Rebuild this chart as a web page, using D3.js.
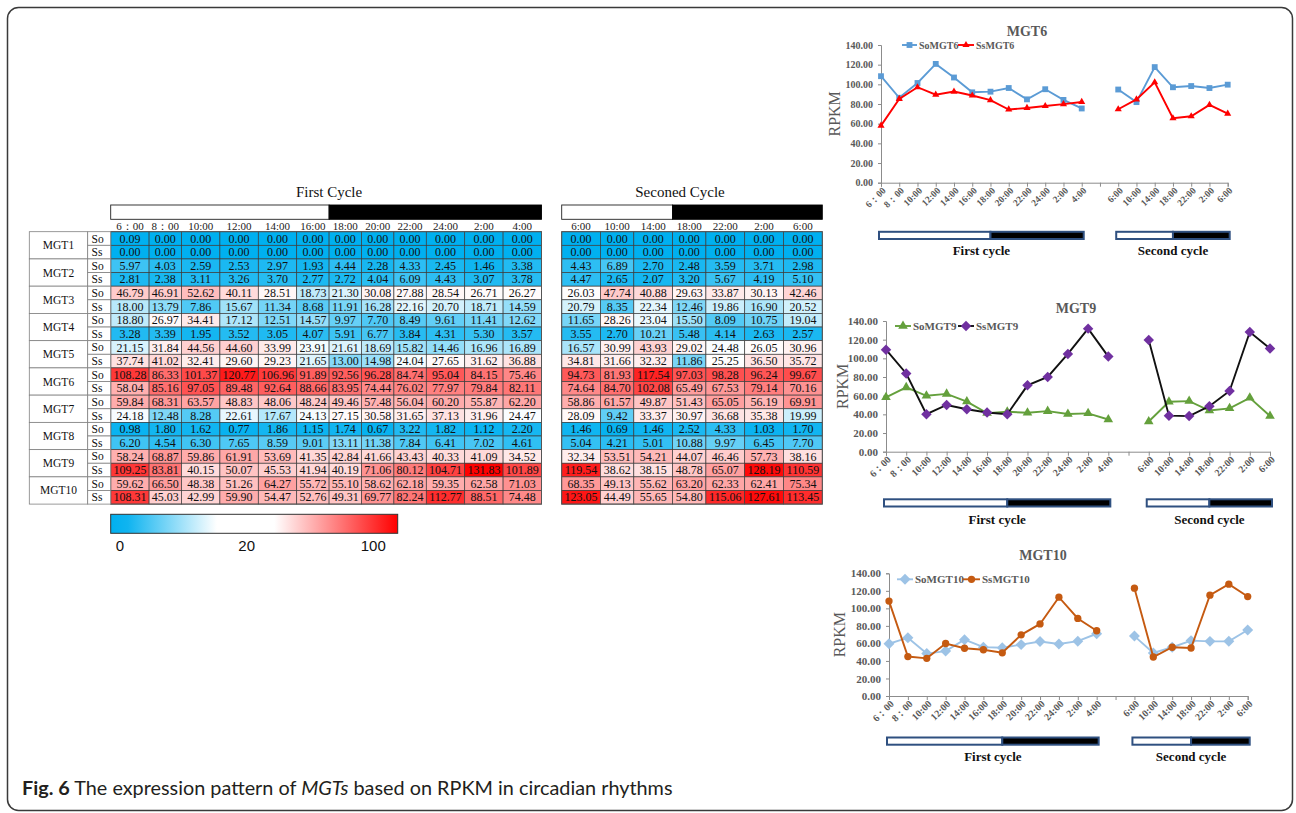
<!DOCTYPE html>
<html><head><meta charset="utf-8">
<script src="https://cdn.jsdelivr.net/npm/d3@7"></script>
<style>body{margin:0;background:#fff}svg{display:block}</style>
</head><body><svg id="c" width="1296" height="813"></svg>
<script>
// ---------------- DATA ----------------
const times1 = ["6：00","8：00","10:00","12:00","14:00","16:00","18:00","20:00","22:00","24:00","2:00","4:00"];
const times2 = ["6:00","10:00","14:00","18:00","22:00","2:00","6:00"];
const genes = ["MGT1","MGT2","MGT3","MGT4","MGT5","MGT6","MGT7","MGT8","MGT9","MGT10"];
const species = ["So","Ss"];
// each row: 12 first-cycle values followed by 7 second-cycle values
const MGT1_So = [0.09,0,0,0,0,0,0,0,0,0,0,0, 0,0,0,0,0,0,0];
const MGT1_Ss = [0,0,0,0,0,0,0,0,0,0,0,0, 0,0,0,0,0,0,0];
const MGT2_So = [5.97,4.03,2.59,2.53,2.97,1.93,4.44,2.28,4.33,2.45,1.46,3.38, 4.43,6.89,2.70,2.48,3.59,3.71,2.98];
const MGT2_Ss = [2.81,2.38,3.11,3.26,3.70,2.77,2.72,4.04,6.09,4.43,3.07,3.78, 4.47,2.65,2.07,3.20,5.67,4.19,5.10];
const MGT3_So = [46.79,46.91,52.62,40.11,28.51,18.73,21.30,30.08,27.88,28.54,26.71,26.27, 26.03,47.74,40.88,29.63,33.87,30.13,42.46];
const MGT3_Ss = [18.00,13.79,7.86,15.67,11.34,8.68,11.91,16.28,22.16,20.70,18.71,14.59, 20.79,8.35,22.34,12.46,19.86,16.90,20.52];
const MGT4_So = [18.80,26.97,34.41,17.12,12.51,14.57,9.97,7.70,8.49,9.61,11.41,12.62, 11.65,28.26,23.04,15.50,8.09,10.75,19.04];
const MGT4_Ss = [3.28,3.39,1.95,3.52,3.05,4.07,5.91,6.77,3.84,4.31,5.30,3.57, 3.55,2.70,10.21,5.48,4.14,2.63,2.57];
const MGT5_So = [21.15,31.84,44.56,44.60,33.99,23.91,21.61,18.69,15.82,14.46,16.96,16.89, 16.57,30.99,43.93,29.02,24.48,26.05,30.96];
const MGT5_Ss = [37.74,41.02,32.41,29.60,29.23,21.65,13.00,14.98,24.04,27.65,31.62,36.88, 34.81,31.66,32.32,11.86,25.25,36.50,35.72];
const MGT6_So = [108.28,86.33,101.37,120.77,106.96,91.89,92.56,96.28,84.74,95.04,84.15,75.46, 94.73,81.93,117.54,97.03,98.28,96.24,99.67];
const MGT6_Ss = [58.04,85.16,97.05,89.48,92.64,88.66,83.95,74.44,76.02,77.97,79.84,82.11, 74.64,84.70,102.08,65.49,67.53,79.14,70.16];
const MGT7_So = [59.84,68.31,63.57,48.83,48.06,48.24,49.46,57.48,56.04,60.20,55.87,62.20, 58.86,61.57,49.87,51.43,65.05,56.19,69.91];
const MGT7_Ss = [24.18,12.48,8.28,22.61,17.67,24.13,27.15,30.58,31.65,37.13,31.96,24.47, 28.09,9.42,33.37,30.97,36.68,35.38,19.99];
const MGT8_So = [0.98,1.80,1.62,0.77,1.86,1.15,1.74,0.67,3.22,1.82,1.12,2.20, 1.46,0.69,1.46,2.52,4.33,1.03,1.70];
const MGT8_Ss = [6.20,4.54,6.30,7.65,8.59,9.01,13.11,11.38,7.84,6.41,7.02,4.61, 5.04,4.21,5.01,10.88,9.97,6.45,7.70];
const MGT9_So = [58.24,68.87,59.86,61.91,53.69,41.35,42.84,41.66,43.43,40.33,41.09,34.52, 32.34,53.51,54.21,44.07,46.46,57.73,38.16];
const MGT9_Ss = [109.25,83.81,40.15,50.07,45.53,41.94,40.19,71.06,80.12,104.71,131.83,101.89, 119.54,38.62,38.15,48.78,65.07,128.19,110.59];
const MGT10_So = [59.62,66.50,48.38,51.26,64.27,55.72,55.10,58.62,62.18,59.35,62.58,71.03, 68.35,49.13,55.62,63.20,62.33,62.41,75.34];
const MGT10_Ss = [108.31,45.03,42.99,59.90,54.47,52.76,49.31,69.77,82.24,112.77,88.51,74.48, 123.05,44.49,55.65,54.80,115.06,127.61,113.45];
const legendTicks = [0, 20, 100];
const yTicks = [0,20,40,60,80,100,120,140];

const rows = [MGT1_So,MGT1_Ss,MGT2_So,MGT2_Ss,MGT3_So,MGT3_Ss,MGT4_So,MGT4_Ss,MGT5_So,MGT5_Ss,
              MGT6_So,MGT6_Ss,MGT7_So,MGT7_Ss,MGT8_So,MGT8_Ss,MGT9_So,MGT9_Ss,MGT10_So,MGT10_Ss];

// ---------------- DRAW ----------------
const svg = d3.select("#c");
const SERIF = "'Liberation Serif','Times New Roman',serif";
const SANS = "'Liberation Sans',Arial,sans-serif";
svg.append("rect").attr("width",1296).attr("height",813).attr("fill","#fff");
svg.append("rect").attr("x",7.5).attr("y",7.5).attr("width",1285).attr("height",803)
  .attr("rx",11).attr("fill","none").attr("stroke","#3a3a3a").attr("stroke-width",1.5);

const maxVal = d3.max(rows, r => d3.max(r));
const color = d3.scaleLinear().domain([0, 25, maxVal]).range(["#00b0f0","#ffffff","#ff0000"]).clamp(true);
const fmt = d3.format(".2f");

const rowTop = 231.7, rowH = 13.62;
const yRow = d3.scaleLinear().domain([0, rows.length]).range([rowTop, rowTop + rowH*rows.length]);

function heatTable(colIdx, labels, x0, wideW, narrowW, title, titleX, split) {
  const widths = colIdx.map(ci => d3.max(rows, r => r[ci]) >= 100 ? wideW : narrowW);
  const starts = [x0, ...d3.cumsum(widths).map(c => x0 + c)];
  const xCol = d3.scaleOrdinal().domain(d3.range(colIdx.length)).range(starts.slice(0,-1));
  const wCol = d3.scaleOrdinal().domain(d3.range(colIdx.length)).range(widths);
  const xEnd = starts[starts.length-1];
  const g = svg.append("g");
  g.append("text").attr("x",titleX).attr("y",197).attr("text-anchor","middle")
    .attr("font-family",SERIF).attr("font-size",15).attr("fill","#111").text(title);
  // light/dark bar
  const xs = xCol(split);
  g.append("rect").attr("x",x0).attr("y",205).attr("width",xs-x0).attr("height",14.3)
    .attr("fill","#fff").attr("stroke","#222").attr("stroke-width",0.9);
  g.append("rect").attr("x",xs).attr("y",205).attr("width",xEnd-xs).attr("height",14.3)
    .attr("fill","#000").attr("stroke","#000").attr("stroke-width",0.9);
  // time labels
  g.selectAll(".tl").data(labels).join("text")
    .attr("x",(d,i)=>xCol(i)+wCol(i)/2).attr("y",230.3).attr("text-anchor","middle")
    .attr("font-family",SERIF).attr("font-size",11).attr("fill","#222").text(d=>d);
  // cells
  const cells = [];
  rows.forEach((r,ri)=>colIdx.forEach((ci,k)=>cells.push({ri,k,v:r[ci]})));
  g.selectAll(".cell").data(cells).join("rect")
    .attr("x",d=>xCol(d.k)).attr("y",d=>yRow(d.ri)).attr("width",d=>wCol(d.k)).attr("height",rowH)
    .attr("fill",d=>color(d.v)).attr("stroke","#3c3c3c").attr("stroke-width",0.7);
  g.selectAll(".val").data(cells).join("text")
    .attr("x",d=>xCol(d.k)+wCol(d.k)/2).attr("y",d=>yRow(d.ri)+rowH/2+4.1).attr("text-anchor","middle")
    .attr("font-family",SERIF).attr("font-size",12).attr("fill","#111").text(d=>fmt(d.v));
  g.append("rect").attr("x",x0).attr("y",rowTop).attr("width",xEnd-x0).attr("height",rowH*rows.length)
    .attr("fill","none").attr("stroke","#555").attr("stroke-width",1);
  return xEnd;
}
heatTable(d3.range(12), times1, 110.7, 38.4, 32.4, "First Cycle", 329, 6);
heatTable(d3.range(12,19), times2, 561.7, 38.8, 33.3, "Seconed Cycle", 680, 3);

// row labels
const lab = svg.append("g");
genes.forEach((gn,gi)=>{
  lab.append("rect").attr("x",29.3).attr("y",yRow(gi*2)).attr("width",58.4).attr("height",rowH*2)
    .attr("fill","#fff").attr("stroke","#808080").attr("stroke-width",0.8);
  lab.append("text").attr("x",58.5).attr("y",yRow(gi*2)+rowH+4).attr("text-anchor","middle")
    .attr("font-family",SERIF).attr("font-size",11.5).attr("fill","#111").text(gn);
  species.forEach((sp,si)=>{
    lab.append("rect").attr("x",87.7).attr("y",yRow(gi*2+si)).attr("width",23).attr("height",rowH)
      .attr("fill","#fff").attr("stroke","#808080").attr("stroke-width",0.8);
    lab.append("text").attr("x",91.5).attr("y",yRow(gi*2+si)+rowH/2+4).attr("font-family",SERIF)
      .attr("font-size",11.5).attr("fill","#111").text(sp);
  });
});

// colour legend
const defs = svg.append("defs");
const grad = defs.append("linearGradient").attr("id","lg");
[[0,"#00b0f0"],[0.06,"#10b4f0"],[0.37,"#ffffff"],[0.57,"#ffffff"],[1,"#ff0000"]].forEach(s=>
  grad.append("stop").attr("offset",s[0]).attr("stop-color",s[1]));
const lgX = d3.scalePoint().domain(legendTicks).range([120,373.3]);
svg.append("rect").attr("x",110.7).attr("y",514.3).attr("width",287).attr("height",19)
  .attr("fill","url(#lg)").attr("stroke","#333").attr("stroke-width",1);
svg.selectAll(".lgt").data(legendTicks).join("text").attr("x",d=>lgX(d)).attr("y",550.5)
  .attr("text-anchor","middle").attr("font-family",SANS).attr("font-size",15).attr("fill","#111").text(d=>d);

// ---------------- LINE CHARTS ----------------
const xLabels = [...times1, "", ...times2];
const diamond = {draw(ctx,size){const r=Math.sqrt(size/2);ctx.moveTo(0,-r);ctx.lineTo(r,0);ctx.lineTo(0,r);ctx.lineTo(-r,0);ctx.closePath();}};
const charts = [
  {title:"MGT6", so:MGT6_So, ss:MGT6_Ss, x0:881, x1:1227.7, yB:182.7, yT:45, titleX:1027, titleY:36,
   legY:45, soL:[902,917], ssL:[958,974], rpkmX:835, barY:231.8, labY:255, fs:10, xfs:9.5,
   soC:"#5b9bd5", soLine:"#5b9bd5", soSym:d3.symbolSquare, soSize:34,
   ssC:"#ff0000", ssLine:"#ff0000", ssSym:d3.symbolTriangle, ssSize:22},
  {title:"MGT9", so:MGT9_So, ss:MGT9_Ss, x0:886, x1:1270, yB:451.7, yT:321, titleX:1076, titleY:313,
   legY:326, soL:[895,911], ssL:[958,974], rpkmX:843, barY:499.3, labY:524.3, fs:11, xfs:10,
   soC:"#64a03c", soLine:"#64a03c", soSym:d3.symbolTriangle, soSize:40,
   ssC:"#7030a0", ssLine:"#111111", ssSym:diamond, ssSize:55},
  {title:"MGT10", so:MGT10_So, ss:MGT10_Ss, x0:889, x1:1247.7, yB:696, yT:573.3, titleX:1043, titleY:560,
   legY:579.3, soL:[897,913], soName:"SoMGT10", ssL:[963,980], rpkmX:840, barY:737.5, labY:761, fs:11, xfs:10,
   soC:"#9dc3e6", soLine:"#9dc3e6", soSym:diamond, soSize:60,
   ssC:"#c55a11", ssLine:"#c55a11", ssSym:d3.symbolCircle, ssSize:42}
];
const GRAY = "#595959", AX = "#8c8c8c";
charts.forEach(c=>{
  const g = svg.append("g");
  const x = d3.scalePoint().domain(d3.range(20)).range([c.x0, c.x1]);
  const y = d3.scaleLinear().domain([0,140]).range([c.yB, c.yT]);
  g.append("text").attr("x",c.titleX).attr("y",c.titleY).attr("text-anchor","middle")
    .attr("font-family",SERIF).attr("font-weight","bold").attr("font-size",14).attr("fill",GRAY).text(c.title);
  // y axis
  const ya = g.append("g").attr("transform",`translate(${c.x0},0)`)
    .call(d3.axisLeft(y).tickValues(yTicks).tickFormat(d3.format(".2f")).tickSize(3).tickPadding(5));
  ya.select(".domain").attr("stroke",AX);
  ya.selectAll(".tick line").attr("stroke",AX);
  ya.selectAll("text").attr("font-family",SERIF).attr("font-weight","bold").attr("font-size",c.fs).attr("fill",GRAY);
  // x axis
  const xa = g.append("g").attr("transform",`translate(0,${c.yB})`)
    .call(d3.axisBottom(x).tickSize(4).tickFormat(""));
  xa.select(".domain").attr("stroke",AX);
  xa.selectAll(".tick line").attr("stroke",AX);
  g.selectAll(".xl").data(d3.range(20)).join("text")
    .attr("transform",i=>`translate(${x(i)+3},${c.yB+6}) rotate(-45)`)
    .attr("text-anchor","end").attr("dy","0.35em")
    .attr("font-family",SERIF).attr("font-weight","bold").attr("font-size",c.xfs).attr("fill",GRAY)
    .text(i=>xLabels[i]);
  // RPKM
  g.append("text").attr("transform",`translate(${c.rpkmX+5},${(c.yT+c.yB)/2}) rotate(-90)`)
    .attr("text-anchor","middle").attr("font-family",SERIF).attr("font-size",16).attr("fill",GRAY).text("RPKM");
  // series
  const pts = arr => arr.map((v,i)=>({i: i<12 ? i : i+1, v}));
  const line = d3.line().x(d=>x(d.i)).y(d=>y(d.v));
  [[c.so,c.soLine,c.soC,c.soSym,c.soSize],[c.ss,c.ssLine,c.ssC,c.ssSym,c.ssSize]].forEach(([arr,lc,mc,sym,sz])=>{
    const p = pts(arr);
    [p.slice(0,12), p.slice(12)].forEach(seg=>
      g.append("path").attr("d",line(seg)).attr("fill","none").attr("stroke",lc).attr("stroke-width",1.9));
    g.selectAll(null).data(p).join("path")
      .attr("transform",d=>`translate(${x(d.i)},${y(d.v)})`)
      .attr("d",d3.symbol().type(sym).size(sz)).attr("fill",mc);
  });
  // legend
  const names = ["So"+c.title, "Ss"+c.title];
  [[c.soL,c.soLine,c.soC,c.soSym,c.soSize,names[0]],[c.ssL,c.ssLine,c.ssC,c.ssSym,c.ssSize,names[1]]].forEach(([l,lc,mc,sym,sz,nm])=>{
    g.append("line").attr("x1",l[0]).attr("x2",l[1]).attr("y1",c.legY).attr("y2",c.legY).attr("stroke",lc).attr("stroke-width",1.9);
    g.append("path").attr("transform",`translate(${(l[0]+l[1])/2},${c.legY})`).attr("d",d3.symbol().type(sym).size(sz)).attr("fill",mc);
    g.append("text").attr("x",l[1]+2).attr("y",c.legY+3.6).attr("font-family",SERIF).attr("font-weight","bold")
      .attr("font-size",c.fs).attr("fill",GRAY).text(nm);
  });
  // light/dark bars
  const bars = [[0,6,11,"First cycle"],[13,16,19,"Second cycle"]];
  bars.forEach(([a,m,b,t])=>{
    const xa0 = x(a)-2, xm = x(m), xb = x(b)+2;
    g.append("rect").attr("x",xa0).attr("y",c.barY).attr("width",xm-xa0).attr("height",7.2)
      .attr("fill","#fff").attr("stroke","#2f5080").attr("stroke-width",2);
    g.append("rect").attr("x",xm).attr("y",c.barY).attr("width",xb-xm).attr("height",7.2)
      .attr("fill","#000").attr("stroke","#2f5080").attr("stroke-width",2);
    g.append("text").attr("x",(xa0+xb)/2).attr("y",c.labY).attr("text-anchor","middle")
      .attr("font-family",SERIF).attr("font-weight","bold").attr("font-size",13).attr("fill","#111").text(t);
  });
});

// ---------------- CAPTION ----------------
const cap = svg.append("text").attr("x",22).attr("y",795).attr("font-family","Lato,'Open Sans',sans-serif")
  .attr("font-size",18).attr("fill","#231f20");
cap.append("tspan").attr("font-weight","bold").text("Fig. 6");
cap.append("tspan").text(" The expression pattern of ");
cap.append("tspan").attr("font-style","italic").text("MGTs");
cap.append("tspan").text(" based on RPKM in circadian rhythms");
const w = cap.node().getComputedTextLength();
cap.attr("font-size", 18*651/w);
</script>
</body></html>
